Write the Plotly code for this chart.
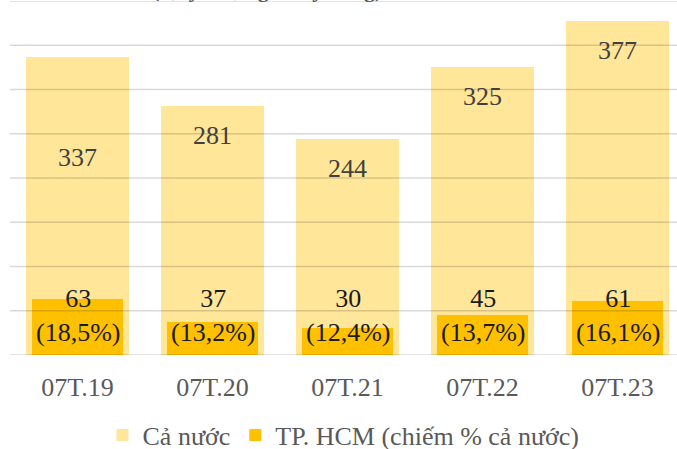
import plotly.graph_objects as go

# Periods (first 7 months of each year)
categories = ["07T.19", "07T.20", "07T.21", "07T.22", "07T.23"]
ca_nuoc = [337, 281, 244, 325, 377]          # whole country
tp_hcm = [63, 37, 30, 45, 61]                 # Ho Chi Minh City
tp_hcm_share = ["18,5%", "13,2%", "12,4%", "13,7%", "16,1%"]
grid_values = [0, 50, 100, 150, 200, 250, 300, 350, 400]

FONT = "Liberation Serif, Times New Roman, serif"
x_pos = list(range(len(categories)))

fig = go.Figure()
fig.add_trace(go.Bar(
    x=x_pos, y=ca_nuoc, name="Cả nước", width=0.77,
    marker=dict(color="#FFE699", line=dict(width=0)),
))
fig.add_trace(go.Bar(
    x=x_pos, y=tp_hcm, name="TP. HCM (chiếm % cả nước)", width=0.667,
    marker=dict(color="#FFC000", line=dict(width=0)),
))

# gridlines drawn over the bars
for v in grid_values:
    fig.add_shape(type="line", xref="paper", x0=0, x1=1, yref="y", y0=v, y1=v,
                  line=dict(color="rgba(0,0,0,0.15)", width=1.5), layer="above")

# value labels for the whole-country bars
label_shift = [-101, -29, -29, -29, -29]
for i, v in enumerate(ca_nuoc):
    fig.add_annotation(x=i, y=v, text=str(v), showarrow=False, yanchor="middle",
                       yshift=label_shift[i],
                       font=dict(family=FONT, size=26, color="#404040"))

# value + share labels for HCMC bars
for i, (v, s) in enumerate(zip(tp_hcm, tp_hcm_share)):
    fig.add_annotation(x=i, y=0, text=f"{v}<br>({s})", showarrow=False,
                       yanchor="middle", yshift=40,
                       font=dict(family=FONT, size=26, color="#1a1a1a"))

# unit line of the title
fig.add_annotation(xref="paper", yref="paper", x=0.3853, y=1, xanchor="center",
                   yanchor="bottom", yshift=-3, showarrow=False,
                   text="<b>(Quy mô, nghìn tỷ đồng)</b>",
                   font=dict(family=FONT, size=22, color="#595959"))

fig.update_layout(
    width=677, height=449,
    margin=dict(l=10, r=0, t=1, b=94, autoexpand=False),
    paper_bgcolor="white", plot_bgcolor="white",
    barmode="overlay", bargap=0,
    showlegend=True,
    legend=dict(orientation="h", x=0.5, xanchor="center", y=-0.226, yanchor="middle",
                font=dict(family=FONT, size=26, color="#595959"),
                itemclick=False, traceorder="normal"),
    xaxis=dict(tickmode="array", tickvals=x_pos, ticktext=categories,
               range=[-0.5, -0.5 + 667 / 135], showgrid=False, zeroline=False,
               showline=False, ticks="", ticklabelstandoff=14, automargin=False,
               tickfont=dict(family=FONT, size=26, color="#595959")),
    yaxis=dict(range=[0, 400], showgrid=False, zeroline=False, showline=False,
               showticklabels=False, ticks="", automargin=False),
)

fig.write_html("out.html")
